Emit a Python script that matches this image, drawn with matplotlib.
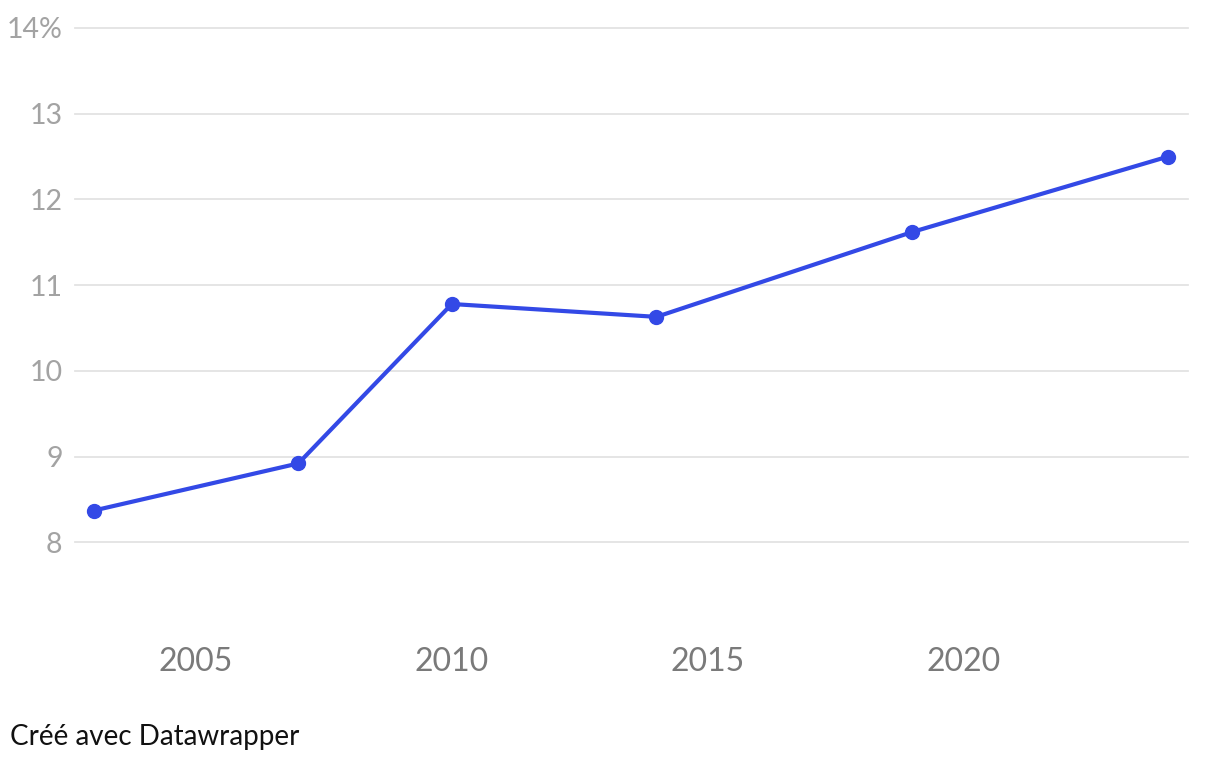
import matplotlib
matplotlib.use("Agg")
import matplotlib.pyplot as plt

years = [2003, 2007, 2010, 2014, 2019, 2024]
values = [8.37, 8.92, 10.78, 10.63, 11.62, 12.50]
x_ticks = [2005, 2010, 2015, 2020]
y_ticks = [8, 9, 10, 11, 12, 13, 14]
y_labels = ["8", "9", "10", "11", "12", "13", "14%"]

plt.rcParams['font.family'] = ['Lato', 'DejaVu Sans']

fig = plt.figure(figsize=(12.2, 7.64), dpi=100)
ax = fig.add_axes([75/1220, 1-628/764, 1113/1220, 600/764])
ax.set_xlim(2002.634, 2024.39)
ax.set_ylim(7, 14)

ax.set_yticks(y_ticks)
ax.set_yticklabels(y_labels)
ax.set_xticks(x_ticks)
ax.set_xticklabels([str(t) for t in x_ticks])
ax.grid(axis='y', color='#e3e3e3', linewidth=1.3)
ax.set_axisbelow(True)
for s in ax.spines.values():
    s.set_visible(False)
ax.tick_params(axis='y', length=0, pad=9, labelsize=20.5, labelcolor='#a3a3a3')
ax.tick_params(axis='x', length=0, pad=14, labelsize=23, labelcolor='#7a7a7a')
for gl in ax.get_ygridlines():
    gl.set_clip_on(False)

ax.plot(years, values, color='#3349e6', linewidth=3, marker='o', markersize=10,
        clip_on=False, zorder=3)

fig.text(10/1220, 1-737/764, "Créé avec Datawrapper", fontsize=20, color='#111111',
         ha='left', va='center')

fig.savefig("out.png", dpi=100, facecolor='white')
